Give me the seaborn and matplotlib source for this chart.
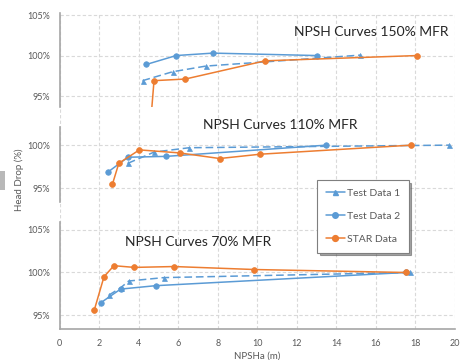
import matplotlib
matplotlib.use("Agg")
import matplotlib.pyplot as plt
import seaborn as sns
import numpy as np
from matplotlib.lines import Line2D
from matplotlib.patches import Rectangle
from matplotlib.ticker import FuncFormatter

sns.set_theme(style="white")
plt.rcParams['font.family'] = ['Lato', 'DejaVu Sans']

BLUE = "#5B9BD5"
ORANGE = "#ED7D31"
GREY_TXT = "#595959"
GRID = "#d9d9d9"
SPINE = "#a6a6a6"

# ---- data: 150% MFR ----
t1_150_x = [4.2, 5.72, 7.4, 15.2]
t1_150_y = [96.9, 98.0, 98.7, 100.05]
t2_150_x = [4.39, 5.9, 7.76, 13.0]
t2_150_y = [98.9, 100.0, 100.3, 100.0]
star_150_x = [4.55, 4.78, 6.36, 10.4, 18.1]
star_150_y = [90.0, 96.9, 97.1, 99.35, 100.0]

# ---- data: 110% MFR ----
t1_110_x = [3.46, 4.79, 6.56, 19.7]
t1_110_y = [97.9, 99.2, 99.7, 100.0]
t2_110_x = [2.43, 3.46, 5.4, 13.5]
t2_110_y = [96.85, 98.6, 98.7, 100.0]
star_110_x = [2.68, 3.0, 4.04, 6.07, 8.1, 10.15, 17.8]
star_110_y = [95.5, 97.9, 99.45, 99.1, 98.45, 98.95, 100.0]

# ---- data: 70% MFR ----
t1_70_x = [2.5, 3.09, 3.5, 5.27, 17.7]
t1_70_y = [97.35, 98.2, 99.0, 99.4, 100.0]
t2_70_x = [2.09, 3.09, 4.86, 17.5]
t2_70_y = [96.45, 98.05, 98.45, 100.0]
star_70_x = [1.76, 2.25, 2.75, 3.78, 5.8, 9.85, 17.5]
star_70_y = [95.6, 99.5, 100.8, 100.6, 100.7, 100.35, 100.0]

titles = ["NPSH Curves 150% MFR", "NPSH Curves 110% MFR", "NPSH Curves 70% MFR"]
series_labels = ["Test Data 1", "Test Data 2", "STAR Data"]
x_ticks = [0, 2, 4, 6, 8, 10, 12, 14, 16, 18, 20]
y_ticks = [95, 100, 105]

W, H = 472, 360
fig = plt.figure(figsize=(W / 100, H / 100), dpi=100)
fig.patch.set_facecolor("white")

xl, xr = 59.5, 455.0

def fig_rect(top_px, bot_px):
    return [xl / W, 1 - bot_px / H, (xr - xl) / W, (bot_px - top_px) / H]

# background axis for vertical grid and x axis
bg = fig.add_axes(fig_rect(13, 329))
bg.set_facecolor("none")
bg.set_xticks(x_ticks)
bg.set_xlim(0, 20)
bg.set_ylim(0, 1)
bg.set_yticks([])
bg.grid(axis="x", color=GRID, linestyle=(0, (3, 2)), linewidth=0.8)
for s in ["top", "right", "left"]:
    bg.spines[s].set_visible(False)
bg.spines["bottom"].set_color(SPINE)
bg.spines["bottom"].set_linewidth(1.2)
bg.tick_params(axis="x", length=0, pad=7, labelsize=6.5, labelcolor=GREY_TXT)
bg.set_xlabel("NPSHa (m)", fontsize=7, color=GREY_TXT, labelpad=3)

panels = [
    dict(rect=(13, 107), ylim=(93.65, 105.25),
         data=[(t1_150_x, t1_150_y), (t2_150_x, t2_150_y), (star_150_x, star_150_y)],
         title_xy=(371, 32)),
    dict(rect=(127, 201.7), ylim=(93.45, 102.1),
         data=[(t1_110_x, t1_110_y), (t2_110_x, t2_110_y), (star_110_x, star_110_y)],
         title_xy=(280, 125)),
    dict(rect=(221.7, 329), ylim=(93.36, 105.97),
         data=[(t1_70_x, t1_70_y), (t2_70_x, t2_70_y), (star_70_x, star_70_y)],
         title_xy=(198, 242)),
]

styles = [
    dict(color=BLUE, marker="^", markersize=3.6, linestyle=(0, (5, 2.5))),
    dict(color=BLUE, marker="o", markersize=4.0, linestyle="-"),
    dict(color=ORANGE, marker="o", markersize=4.2, linestyle="-"),
]

pct = FuncFormatter(lambda v, p: f"{v:.0f}%")

for i, pnl in enumerate(panels):
    ax = fig.add_axes(fig_rect(*pnl["rect"]))
    ax.set_facecolor("none")
    for (xs, ys), st, lab in zip(pnl["data"], styles, series_labels):
        sns.lineplot(x=xs, y=ys, ax=ax, sort=False, color=st["color"],
                     marker=st["marker"], markersize=st["markersize"],
                     markeredgecolor=st["color"], markeredgewidth=0.5,
                     linestyle=st["linestyle"], linewidth=1.1, legend=False)
    ax.set_xlabel("")
    ax.set_ylabel("")
    lo, hi = pnl["ylim"]
    ax.set_yticks([t for t in y_ticks if lo <= t <= hi])
    ax.yaxis.set_major_formatter(pct)
    ax.set_xticks([])
    ax.set_xlim(0, 20)
    ax.set_ylim(lo, hi)
    ax.grid(axis="y", color=GRID, linestyle=(0, (3, 2)), linewidth=0.8)
    for s in ["top", "right", "bottom"]:
        ax.spines[s].set_visible(False)
    ax.spines["left"].set_color(SPINE)
    ax.spines["left"].set_linewidth(1.2)
    ax.tick_params(axis="y", length=0, pad=7, labelsize=6.5, labelcolor=GREY_TXT)
    tx, ty = pnl["title_xy"]
    fig.text(tx / W, 1 - ty / H, titles[i], ha="center", va="center",
             fontsize=10, color="#262626")

fig.text(19 / W, 1 - 180 / H, "Head Drop (%)", rotation=90, ha="center",
         va="center", fontsize=7, color=GREY_TXT)

fig.patches.append(Rectangle((0, 1 - 190 / H), 4.7 / W, 19 / H,
                             transform=fig.transFigure, facecolor="#b8b8b8",
                             edgecolor="none"))

handles = [Line2D([], [], color=st["color"], marker=st["marker"],
                  markersize=st["markersize"], markeredgecolor=st["color"],
                  linewidth=1.1) for st in styles]
leg = fig.legend(handles, series_labels, loc="upper left",
                 bbox_to_anchor=(317 / W, 1 - 180 / H), frameon=True,
                 fontsize=7.5, labelcolor=GREY_TXT, handlelength=1.8,
                 handletextpad=0.2, labelspacing=1.3, borderpad=0.85,
                 fancybox=False, shadow=True, borderaxespad=0)
leg.get_frame().set_edgecolor("#7f7f7f")
leg.get_frame().set_linewidth(0.8)

fig.savefig("out.png", dpi=100, facecolor="white")
